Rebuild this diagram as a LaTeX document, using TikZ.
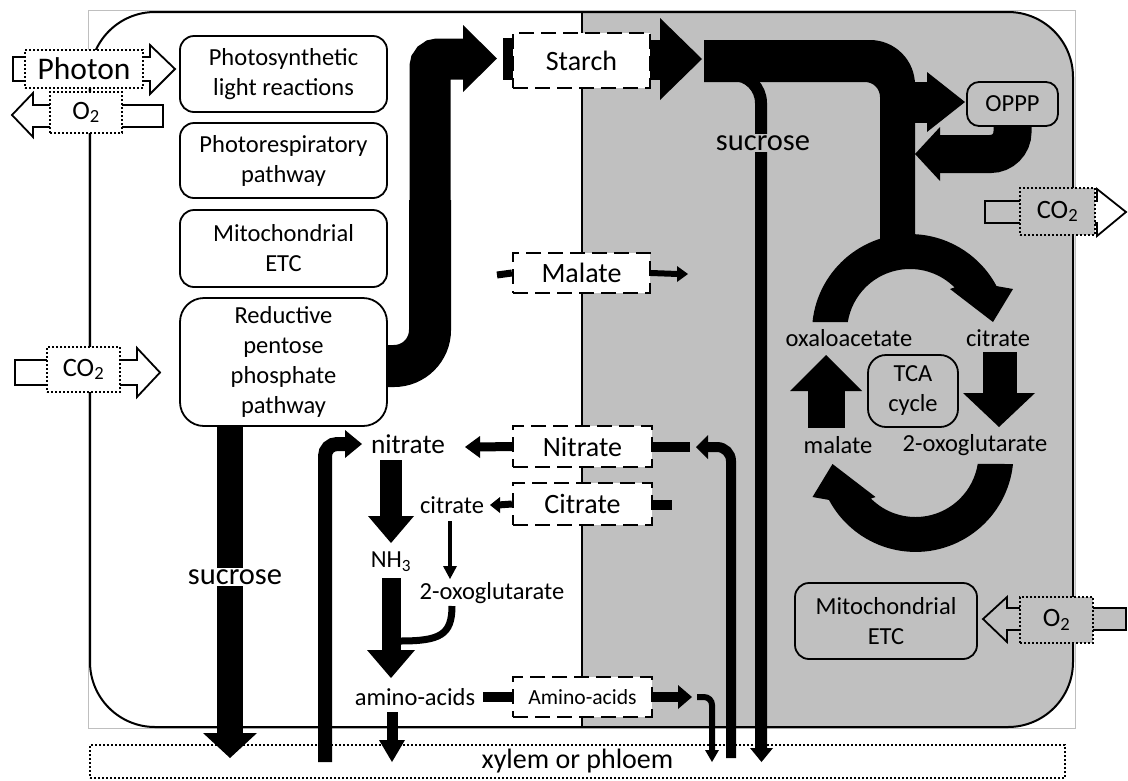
\documentclass[tikz,border=0pt]{standalone}
\usepackage{fontspec}
\setmainfont{Carlito}
\usetikzlibrary{calc}
\definecolor{bgg}{RGB}{192,192,192}
\pgfdeclarelayer{back}
\pgfdeclarelayer{mid}
\pgfsetlayers{back,mid,main}
\tikzset{
  lbox/.style={draw, line width=1.8pt, rounded corners=14pt, fill=white, align=center, inner sep=0pt, font=\fontsize{24.5}{30}\selectfont},
  gbox/.style={lbox, fill=bgg},
  dbox/.style={draw, line width=2.2pt, dash pattern=on 15pt off 7pt, fill=white, align=center, inner sep=0pt, font=\fontsize{28}{34}\selectfont},
  pbox/.style={draw, line width=2pt, dash pattern=on 2pt off 2pt, fill=white, inner sep=0pt, align=center, font=\fontsize{26.5}{30}\selectfont},
  hollow/.style={draw, line width=1.8pt, line join=miter},
  txt/.style={inner sep=1pt, font=\fontsize{24.5}{30}\selectfont},
}
\begin{document}
\begin{tikzpicture}[x=1pt,y=-1pt]
\useasboundingbox (0,0) rectangle (1128,780);

% ---------- nodes (main layer) ----------
\node[lbox, minimum width=207pt, minimum height=76pt] (psl) at (283.5,74) {Photosynthetic\\light reactions};
\node[lbox, minimum width=207pt, minimum height=75pt] (pr) at (283.5,160.5) {Photorespiratory\\pathway};
\node[lbox, minimum width=207pt, minimum height=77pt] (metc) at (283.5,248.5) {Mitochondrial\\ETC};
\node[lbox, rounded corners=24pt, minimum width=207pt, minimum height=128pt] (rpp) at (283.5,362) {Reductive\\pentose\\phosphate\\pathway};

\node[pbox, minimum width=118pt, minimum height=38pt, font=\fontsize{31.5}{36}\selectfont] (photon) at (84,69) {Photon};
\node[pbox, minimum width=72pt, minimum height=41pt] (o2a) at (86,112.5) {O\textsubscript{2}};
\node[pbox, minimum width=73pt, minimum height=45pt] (co2a) at (83.5,369.5) {CO\textsubscript{2}};

\node[dbox, minimum width=137pt, minimum height=55pt] (starch) at (581.5,60.5) {Starch};
\node[dbox, minimum width=137pt, minimum height=40pt] (malateb) at (581.5,273) {Malate};
\node[dbox, minimum width=139pt, minimum height=41pt] (nitrateb) at (582.5,446.5) {Nitrate};
\node[dbox, minimum width=139pt, minimum height=42pt] (citrateb) at (582.5,504) {Citrate};
\node[dbox, minimum width=139pt, minimum height=40pt, font=\fontsize{21.6}{26}\selectfont] (aab) at (582.5,697) {Amino-acids};

\node[txt, fill=white, font=\fontsize{30.5}{36}\selectfont] (sucl) at (235,577) {sucrose};
\node[txt, fill=bgg, font=\fontsize{30.5}{36}\selectfont] (sucr) at (763,143) {sucrose};

\node[gbox, rounded corners=12pt, minimum width=91pt, minimum height=44pt] (oppp) at (1012.5,104) {OPPP};
\node[pbox, fill=bgg, minimum width=75pt, minimum height=47pt] (co2b) at (1057.5,211.5) {CO\textsubscript{2}};
\node[gbox, rounded corners=18pt, minimum width=90pt, minimum height=72pt] (tca) at (913,391) {TCA\\cycle};
\node[txt] (oaa) at (849,338) {oxaloacetate};
\node[txt] (cit) at (998,338) {citrate};
\node[txt] (mal) at (838,445) {malate};
\node[txt] (oxo) at (975,445) {2-oxoglutarate};
\node[gbox, minimum width=182pt, minimum height=76pt] (metcb) at (886,621) {Mitochondrial\\ETC};
\node[pbox, fill=bgg, minimum width=73pt, minimum height=46pt] (o2b) at (1056.5,620) {O\textsubscript{2}};

\node[txt, font=\fontsize{27.3}{32}\selectfont] (nitl) at (408,444) {nitrate};
\node[txt] (citl) at (452,505) {citrate};
\node[txt] (nh3) at (391,562) {NH\textsubscript{3}};
\node[txt] (oxol) at (492,593) {2-oxoglutarate};
\node[txt] (aal) at (415,697) {amino-acids};

% ---------- background ----------
\begin{pgfonlayer}{back}
  \draw[black!25, line width=0.6pt] (88,10) rectangle (1075,728);
  \begin{scope}
    \clip[rounded corners=65pt] (90,12) rectangle (1073,727);
    \fill[bgg] (582,0) rectangle (1128,780);
  \end{scope}
  \draw[line width=2pt, rounded corners=65pt] (90,12) rectangle (1073,727);
  \draw[line width=1.5pt] (582,12) -- (582,727);
  \node[pbox, minimum width=975pt, minimum height=33pt, font=\fontsize{28}{34}\selectfont] (xp) at (577.5,761.5) {xylem or phloem};
\end{pgfonlayer}

% ---------- arrows ----------
\begin{pgfonlayer}{mid}
  % rpp -> Starch
  \draw[line width=42pt, rounded corners=36pt] (rpp.east |- 0,366) -| (430,200);
  \draw[line width=41pt, rounded corners=8pt] (430,230) |- (465,59);
  \fill (463,25) -- (497,58.5) -- (463,92) -- cycle;
  \fill (503,38) rectangle (starch.center |- 0,80);
  % Starch -> band
  \fill (starch.center |- 0,40) rectangle (662,80);
  \fill (660,18) -- (702,59) -- (660,100) -- cycle;
  \fill (704,40) -- (870,40) arc[start angle=-90, end angle=0, radius=45] -- (915,240) -- (880,240) -- (880,97) arc[start angle=0, end angle=-90, radius=15] -- (704,82) -- cycle;
  % sucrose right
  \draw[line width=12pt, rounded corners=28pt] (712,75) -| (761,750);
  \fill (750,748) -- (773,748) -- (761.5,762) -- cycle;
  % OPPP
  \fill (905,82) rectangle (928,123);
  \fill (927,72) -- (965,102) -- (927,132) -- cycle;
  \draw[line width=38pt, rounded corners=22pt] (oppp.center) |- (938,154);
  \fill (940,127) -- (915,154) -- (940,181) -- cycle;
  % TCA arcs
  \fill (812.5,322) arc[start angle=-174.1, end angle=-28, radius=98] -- (1013,289) -- (993,322) -- (950,289) -- (954.55,287.45) arc[start angle=-45, end angle=-170.9, radius=63] -- cycle;
  \fill[rotate around={180:(912.75,393)}] (812.5,322) arc[start angle=-174.1, end angle=-28, radius=98] -- (1013,289) -- (993,322) -- (950,289) -- (954.55,287.45) arc[start angle=-45, end angle=-170.9, radius=63] -- cycle;
  % TCA straight
  \fill (808,389) rectangle (845,428);
  \fill (790,391) -- (826,355) -- (862,391) -- cycle;
  \fill (983,352) rectangle (1017,394);
  \fill (963,393) -- (1035,393) -- (999,427) -- cycle;
  % left sucrose
  \fill (217,426) rectangle (243,735);
  \fill (203,733) -- (257,733) -- (230,758) -- cycle;
  % nitrate in (left)
  \draw[line width=14pt, rounded corners=12pt] (325,762) |- (350,444);
  \fill (345,430) -- (362,444) -- (345,458) -- cycle;
  % nitrate -> NH3
  \fill (380,460) rectangle (402,518);
  \fill (368,516) -- (414,516) -- (391,543) -- cycle;
  % citrate -> 2-oxo
  \draw[line width=4pt] (450,521) -- (450,568);
  \fill (443,566) -- (457,566) -- (450,579) -- cycle;
  % NH3 -> amino
  \fill (382,578) rectangle (401,652);
  \fill (367,650) -- (415,650) -- (391,678) -- cycle;
  \draw[line width=7pt] (452,606) .. controls (452,635) and (440,641) .. (400,641);
  % amino down
  \fill (387,712) rectangle (398,742);
  \fill (379,740) -- (405,740) -- (392,762) -- cycle;
  % Malate
  \draw[line width=7pt] (497,275) -- (malateb.west);
  \draw[line width=6pt] (malateb.east) -- (678,274);
  \fill (677,266) -- (688,274) -- (677,282) -- cycle;
  % Nitrate
  \draw[line width=9pt] (nitrateb.west) -- (478,447);
  \fill (480,436) -- (465,447) -- (480,458) -- cycle;
  \fill (650,442) rectangle (690,452);
  \draw[line width=10pt, rounded corners=14pt] (731,758) |- (705,447);
  \fill (708,435) -- (696,447) -- (708,459) -- cycle;
  % Citrate
  \draw[line width=7pt] (citrateb.west) -- (498,505);
  \fill (500,497) -- (490,505) -- (500,513) -- cycle;
  \fill (650,500) rectangle (672,510);
  % Amino-acids
  \fill (483,692) rectangle (515,702);
  \fill (650,692) rectangle (680,702);
  \fill (678,685) -- (692,697) -- (678,709) -- cycle;
  \draw[line width=6pt, rounded corners=8pt] (697,697) -| (712,752);
  \fill (705,750) -- (719,750) -- (712,762) -- cycle;
  % hollow arrows
  \draw[hollow] (13,57) -- (150,57) -- (150,45) -- (175,69) -- (150,94) -- (150,81) -- (13,81) -- cycle;
  \draw[hollow] (12,115) -- (33,93) -- (33,105) -- (163,105) -- (163,127) -- (33,127) -- (33,137) -- cycle;
  \draw[hollow] (15,360) -- (137,360) -- (137,348) -- (160,372.5) -- (137,397) -- (137,385) -- (15,385) -- cycle;
  \draw[hollow] (985,201) -- (1097,201) -- (1097,189) -- (1126,212) -- (1097,236) -- (1097,223) -- (985,223) -- cycle;
  \draw[hollow, fill=bgg] (983,619) -- (1007,597) -- (1007,608) -- (1126,608) -- (1126,630) -- (1007,630) -- (1007,642) -- cycle;
\end{pgfonlayer}
\end{tikzpicture}
\end{document}
